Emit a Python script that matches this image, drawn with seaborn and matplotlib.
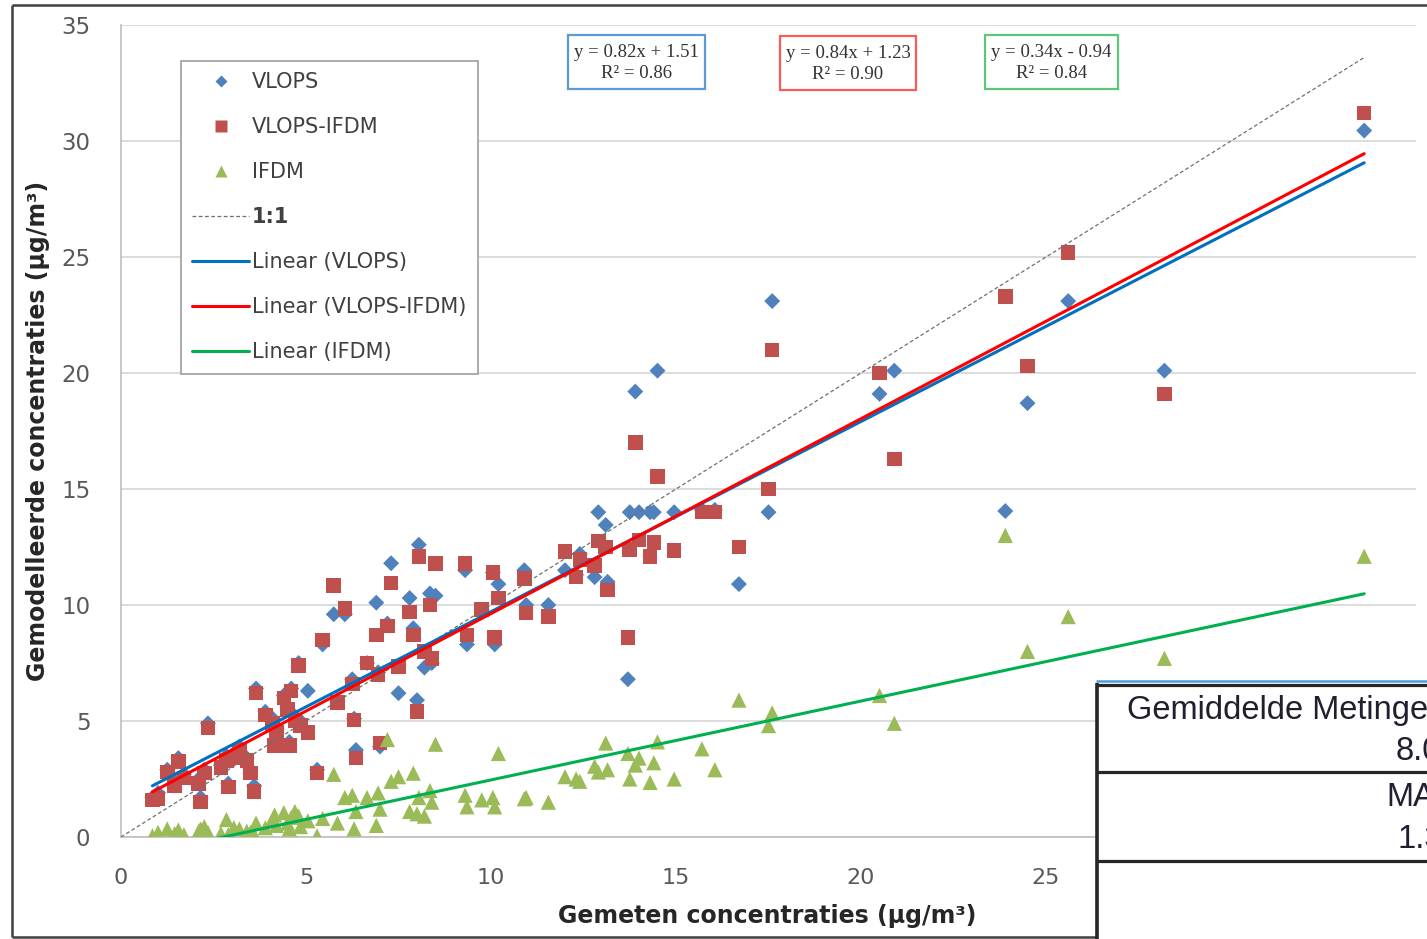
import numpy as np
import pandas as pd
import seaborn as sns
import matplotlib.pyplot as plt
from matplotlib.lines import Line2D
from matplotlib.patches import Rectangle

gemeten = [0.85, 1.0, 1.25, 1.45, 1.55, 1.7, 2.1, 2.15, 2.25, 2.35,
           2.7, 2.85, 2.9, 3.05, 3.2, 3.4, 3.5, 3.6, 3.65, 3.9,
           4.1, 4.15, 4.2, 4.4, 4.5, 4.55, 4.6, 4.7, 4.8, 4.85,
           5.05, 5.3, 5.45, 5.75, 5.85, 6.05, 6.25, 6.3, 6.35, 6.65,
           6.9, 6.95, 7.0, 7.2, 7.3, 7.5, 7.8, 7.9, 8.0, 8.05,
           8.2, 8.35, 8.4, 8.5, 9.3, 9.35, 9.75, 10.05, 10.1, 10.2,
           10.9, 10.95, 11.55, 12.0, 12.3, 12.4, 12.8, 12.9, 13.1, 13.15,
           13.7, 13.75, 13.9, 14.0, 14.3, 14.4, 14.5, 14.95, 15.7, 16.05,
           16.7, 17.5, 17.6, 20.5, 20.9, 23.9, 24.5, 25.6, 28.2, 33.6]

vlops = [1.7, 1.9, 2.9, 2.4, 3.4, 2.7, 2.5, 1.7, 2.9, 4.9,
         3.1, 3.5, 2.3, 3.6, 3.9, 3.4, 2.9, 2.2, 6.4, 5.4,
         5.1, 4.1, 4.6, 6.1, 5.6, 4.1, 6.4, 5.2, 7.5, 5.0,
         6.3, 2.9, 8.3, 9.6, 5.9, 9.6, 6.8, 5.1, 3.75, 7.5,
         10.1, 7.1, 3.9, 9.2, 11.8, 6.2, 10.3, 9.0, 5.9, 12.6,
         7.3, 10.5, 7.5, 10.4, 11.5, 8.3, 9.8, 11.4, 8.3, 10.9,
         11.5, 10.0, 10.0, 11.5, 11.3, 12.2, 11.2, 14.0, 13.45, 11.0,
         6.8, 14.0, 19.2, 14.0, 14.0, 14.0, 20.1, 14.0, 14.1, 14.1,
         10.9, 14.0, 23.1, 19.1, 20.1, 14.05, 18.7, 23.1, 20.1, 30.45]

vlops_ifdm = [1.6, 1.65, 2.8, 2.2, 3.25, 2.55, 2.3, 1.5, 2.75, 4.7,
              3.0, 3.3, 2.15, 3.4, 3.75, 3.3, 2.75, 1.95, 6.2, 5.25,
              4.9, 3.95, 4.5, 6.0, 5.5, 3.95, 6.3, 5.0, 7.4, 4.8,
              4.5, 2.75, 8.5, 10.85, 5.8, 9.85, 6.6, 5.05, 3.4, 7.5,
              8.7, 7.0, 4.05, 9.1, 10.95, 7.35, 9.7, 8.7, 5.4, 12.1,
              8.0, 10.0, 7.7, 11.8, 11.8, 8.7, 9.8, 11.4, 8.6, 10.3,
              11.15, 9.65, 9.5, 12.3, 11.2, 11.95, 11.7, 12.75, 12.5, 10.65,
              8.6, 12.4, 17.0, 12.8, 12.1, 12.7, 15.55, 12.35, 14.0, 14.0,
              12.5, 15.0, 21.0, 20.0, 16.3, 23.3, 20.3, 25.2, 19.1, 31.2]

ifdm = [0.05, 0.2, 0.35, 0.15, 0.3, 0.1, 0.25, 0.35, 0.45, 0.2,
        0.15, 0.75, 0.1, 0.4, 0.35, 0.25, 0.2, 0.1, 0.6, 0.4,
        0.75, 0.95, 0.5, 1.05, 0.6, 0.35, 0.85, 1.1, 0.9, 0.45,
        0.7, 0.05, 0.8, 2.7, 0.6, 1.7, 1.8, 0.35, 1.1, 1.7,
        0.5, 1.9, 1.2, 4.2, 2.4, 2.6, 1.1, 2.75, 1.0, 1.7,
        0.9, 2.0, 1.5, 4.0, 1.8, 1.3, 1.6, 1.7, 1.3, 3.6,
        1.65, 1.7, 1.5, 2.6, 2.5, 2.4, 3.05, 2.8, 4.05, 2.9,
        3.6, 2.5, 3.1, 3.4, 2.35, 3.2, 4.1, 2.5, 3.8, 2.9,
        5.9, 4.8, 5.35, 6.1, 4.9, 13.0, 8.0, 9.5, 7.7, 12.1]

# Excel trendlines as printed in the boxes
series = ['VLOPS', 'VLOPS-IFDM', 'IFDM']
slopes = [0.82, 0.84, 0.34]
intercepts = [1.51, 1.23, -0.94]
r2 = [0.86, 0.90, 0.84]

# Table overlay texts (cut off by the crop)
tabel_teksten = ['Gemiddelde Metingen', '8.0', 'MAE', '1.3']

marker_colors = {'VLOPS': '#4F81BD', 'VLOPS-IFDM': '#C0504D', 'IFDM': '#9BBB59'}
line_colors = {'VLOPS': '#0070C0', 'VLOPS-IFDM': '#FF0000', 'IFDM': '#00B050'}
markers = {'VLOPS': 'D', 'VLOPS-IFDM': 's', 'IFDM': '^'}
marker_sizes = {'VLOPS': 66, 'VLOPS-IFDM': 110, 'IFDM': 120}
box_colors = ['#5B9BD5', '#FF5959', '#5CC77A']

df = pd.DataFrame({'gemeten': gemeten, 'VLOPS': vlops,
                   'VLOPS-IFDM': vlops_ifdm, 'IFDM': ifdm})
df_long = df.melt(id_vars='gemeten', var_name='model', value_name='gemodelleerd')

# Plot ########################################################################
sns.set_theme(style='white')
plt.rcParams['font.family'] = ['DejaVu Sans']

W, H = 1427, 939
fig = plt.figure(figsize=(W / 100, H / 100), dpi=100)
ax = fig.add_axes([121 / W, 102 / H, 1295 / W, 812 / H])

for name in series:
    sns.scatterplot(data=df_long[df_long['model'] == name], x='gemeten', y='gemodelleerd',
                    color=marker_colors[name], marker=markers[name], s=marker_sizes[name],
                    linewidth=0, edgecolor='none', legend=False, ax=ax, zorder=3)

xmax = max(gemeten)
ax.plot([0, xmax], [0, xmax], color='#6F6F6F', lw=0.9, ls=(0, (3, 2)), zorder=4)

xs = np.array([min(gemeten), xmax])
for name, a, b in zip(series, slopes, intercepts):
    sns.lineplot(x=xs, y=a * xs + b, color=line_colors[name], lw=2.2, ax=ax, zorder=5)

ax.set_xlim(0, 35)
ax.set_ylim(0, 35)
# ticks at 30 and 35 sit under the table overlay
ax.set_xticks(range(0, 30, 5))
ax.set_yticks(range(0, 36, 5))
ax.yaxis.grid(True, color='#D9D9D9', lw=1.3)
ax.xaxis.grid(False)
ax.set_axisbelow(True)
for side in ['top', 'right']:
    ax.spines[side].set_visible(False)
for side in ['left', 'bottom']:
    ax.spines[side].set_color('#BFBFBF')
    ax.spines[side].set_linewidth(1.2)

ax.tick_params(axis='y', length=8, width=1.2, color='#BFBFBF', pad=14,
               labelsize=16.5, labelcolor='#595959')
ax.tick_params(axis='x', length=7, width=1.2, color='#BFBFBF', pad=15,
               labelsize=16, labelcolor='#595959')

ax.set_xlabel('Gemeten concentraties (µg/m³)', fontsize=17, fontweight='bold',
              color='#262626')
ax.set_ylabel('Gemodelleerde concentraties (µg/m³)', fontsize=17, fontweight='bold',
              color='#262626')
ax.xaxis.set_label_coords((767 - 121) / 1295, (837 - 916) / 812)
ax.xaxis.label.set_va('center')
ax.yaxis.set_label_coords((38 - 121) / 1295, 0.5)
ax.yaxis.label.set_va('center')

handles = [
    Line2D([], [], ls='none', marker='D', color=marker_colors['VLOPS'], markersize=6.2, mec='none'),
    Line2D([], [], ls='none', marker='s', color=marker_colors['VLOPS-IFDM'], markersize=8, mec='none'),
    Line2D([], [], ls='none', marker='^', color=marker_colors['IFDM'], markersize=8, mec='none'),
    Line2D([], [], color='#6F6F6F', lw=0.9, ls=(0, (3, 2))),
    Line2D([], [], color=line_colors['VLOPS'], lw=2.2),
    Line2D([], [], color=line_colors['VLOPS-IFDM'], lw=2.2),
    Line2D([], [], color=line_colors['IFDM'], lw=2.2),
]
labels = series + ['1:1'] + ['Linear (' + s + ')' for s in series]
leg = ax.legend(handles, labels, loc='upper left', bbox_to_anchor=(181 / W, 1 - 61 / H),
                bbox_transform=fig.transFigure, borderaxespad=0, frameon=True, fancybox=False,
                edgecolor='#A6A6A6', framealpha=1, fontsize=15, handlelength=2.7,
                handletextpad=0.15, labelspacing=1.2, borderpad=0.55)
leg.get_frame().set_linewidth(1.3)
for t in leg.get_texts():
    t.set_color('#404040')
leg.get_texts()[3].set_fontweight('bold')

# Overlay in pixel coordinates: equation boxes, outer border, table ############
ov = fig.add_axes([0, 0, 1, 1], zorder=10)
ov.set_xlim(0, W)
ov.set_ylim(H, 0)
ov.axis('off')
ov.patch.set_alpha(0)

boxes = [(568, 35, 137, 54), (780, 36, 136, 54), (985, 35, 133, 54)]
for (bx, by, bw, bh), col, a, b, r in zip(boxes, box_colors, slopes, intercepts, r2):
    ov.add_patch(Rectangle((bx, by), bw, bh, fill=True, facecolor='white', edgecolor=col, lw=1.6))
    sign = '+' if b >= 0 else '-'
    ov.text(bx + bw / 2, by + bh / 2 + 1, f'y = {a:.2f}x {sign} {abs(b):.2f}\nR² = {r:.2f}',
            ha='center', va='center', fontsize=13.5, family='Liberation Serif',
            color='#333333', linespacing=1.3)

ov.plot([12, 12], [5, 937], color='#404040', lw=1.8, solid_capstyle='butt')
ov.plot([12, W], [5, 5], color='#404040', lw=1.8, solid_capstyle='butt')
ov.plot([12, 1096], [937, 937], color='#404040', lw=1.8, solid_capstyle='butt')

ov.add_patch(Rectangle((1096, 683), W - 1096, H - 683, facecolor='white', edgecolor='none'))
ov.plot([1096, W], [680.5, 680.5], color='#4F9BD9', lw=1.8, solid_capstyle='butt')
for yy in [684.5, 772, 861]:
    ov.plot([1096, W], [yy, yy], color='#262626', lw=2.3, solid_capstyle='butt')
ov.plot([1096.5, 1096.5], [683, H], color='#262626', lw=2.6, solid_capstyle='butt')

tab_pos = [(1127, 711), (1396, 752), (1386, 797), (1398, 840)]
for (tx, ty), txt in zip(tab_pos, tabel_teksten):
    ov.text(tx, ty, txt, ha='left', va='center', fontsize=23.5, family='Liberation Sans',
            color='#1F1F2F', clip_on=True)

plt.savefig('out.png', dpi=100)
